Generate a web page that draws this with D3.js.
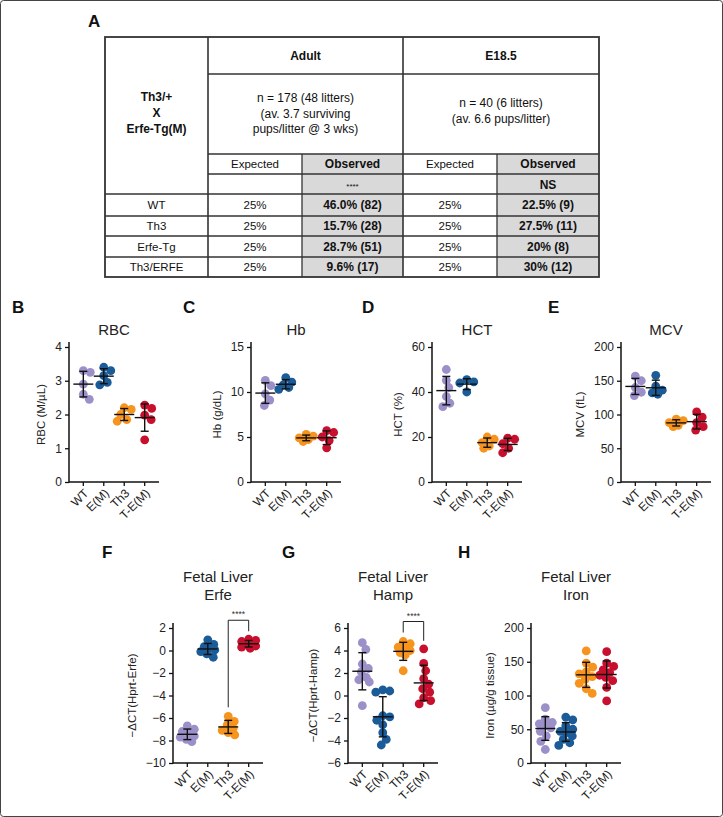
<!DOCTYPE html>
<html><head><meta charset="utf-8">
<script src="https://cdn.jsdelivr.net/npm/d3@7"></script>
<style>
body{margin:0;background:#fff;}
svg{display:block;font-family:"Liberation Sans",Arial,Helvetica,sans-serif;}
</style>
</head><body>
<svg id="c" width="723" height="817"></svg>
<script>
// ---------------- DATA ----------------
const tableRows = ['WT', 'Th3', 'Erfe-Tg', 'Th3/ERFE'];
const adultExpected = ['25%', '25%', '25%', '25%'];
const adultObserved = ['46.0% (82)', '15.7% (28)', '28.7% (51)', '9.6% (17)'];
const e185Expected = ['25%', '25%', '25%', '25%'];
const e185Observed = ['22.5% (9)', '27.5% (11)', '20% (8)', '30% (12)'];
const crossLines = ['Th3/+', 'X', 'Erfe-Tg(M)'];
const adultInfo = ['n = 178 (48 litters)', '(av. 3.7 surviving', 'pups/litter @ 3 wks)'];
const e185Info = ['n = 40 (6 litters)', '(av. 6.6 pups/litter)'];
const adultSig = '****';
const e185Sig = 'NS';

const groups = ['WT', 'E(M)', 'Th3', 'T-E(M)'];
const groupColors = ['#9c90c8', '#1a5b98', '#f7941d', '#c8102e'];

const rbc = [[3.3, 3.25, 2.9, 2.6, 2.45], [3.4, 3.3, 3.15, 2.95, 2.88], [2.2, 2.15, 2.0, 1.85, 1.8], [2.28, 2.18, 1.98, 1.85, 1.25]];
const hb = [[11.3, 10.7, 9.8, 9.1, 8.5], [11.6, 11.1, 10.8, 10.5, 10.3], [5.3, 5.1, 4.9, 4.7, 4.5], [5.7, 5.5, 5.0, 4.6, 3.8]];
const hct = [[50, 45.2, 42, 38, 35, 33.5], [45.5, 44.5, 44, 40], [20, 19, 17.5, 16, 15], [19.5, 19, 17, 15, 13]];
const mcv = [[157, 150, 140, 133, 128], [158, 142, 136, 132, 130], [93, 91, 88, 84, 82], [104, 96, 88, 82, 77]];
const erfe = [[-6.7, -7.0, -7.2, -7.4, -7.6, -7.7, -7.9, -8.1], [0.95, 0.55, 0.35, 0.2, 0.05, -0.1, -0.3, -0.6], [-5.85, -6.3, -6.6, -6.9, -7.1, -7.3, -7.5], [1.0, 0.9, 0.8, 0.65, 0.55, 0.4, 0.3, 0.2]];
const hamp = [[4.7, 4.1, 2.8, 2.4, 2.1, 1.6, 1.4, 1.2, -0.9], [0.5, 0.4, 0.3, -1.8, -1.9, -2.2, -2.6, -3.3, -3.9, -4.4], [4.8, 4.6, 4.3, 4.1, 4.0, 3.8, 3.6, 2.2], [4.15, 2.85, 2.2, 1.5, 1.0, 0.6, 0.3, -0.2, -0.45, -0.75]];
const iron = [[82, 65, 60, 58, 55, 52, 47, 40, 32, 20], [68, 64, 55, 50, 47, 45, 40, 35, 30, 26], [166, 148, 142, 135, 132, 128, 124, 118, 110, 103], [165, 148, 143, 138, 134, 130, 127, 122, 112, 92]];

const rbcTicks = [0, 1, 2, 3, 4];
const hbTicks = [0, 5, 10, 15];
const hctTicks = [0, 20, 40, 60];
const mcvTicks = [0, 50, 100, 150, 200];
const erfeTicks = [-10, -8, -6, -4, -2, 0, 2];
const hampTicks = [-6, -4, -2, 0, 2, 4, 6];
const ironTicks = [0, 50, 100, 150, 200];

const erfeSig = {a: 'Th3', b: 'T-E(M)', label: '****'};
const hampSig = {a: 'Th3', b: 'T-E(M)', label: '****'};

// ---------------- DRAW ----------------
const svg = d3.select('#c');
svg.append('rect').attr('x', 0.5).attr('y', 0.5).attr('width', 722).attr('height', 816)
  .attr('rx', 3).attr('fill', 'none').attr('stroke', '#444').attr('stroke-width', 1);

function letter(t, x, y) {
  svg.append('text').attr('x', x).attr('y', y).attr('font-size', 17).attr('font-weight', 'bold')
    .attr('fill', '#111').text(t);
}

// ---- Table A ----
letter('A', 88, 27);
const cx = [105, 208, 302, 403, 497, 599];
const ry = [37, 74, 154, 174, 194, 216, 236, 257, 277];
const tg = svg.append('g');
[[cx[2], cx[3]], [cx[4], cx[5]]].forEach(([a, b]) => {
  tg.append('rect').attr('x', a).attr('y', ry[2]).attr('width', b - a).attr('height', ry[8] - ry[2]).attr('fill', '#d9d9d9');
});
function ln(x1, y1, x2, y2, w) {
  tg.append('line').attr('x1', x1).attr('y1', y1).attr('x2', x2).attr('y2', y2)
    .attr('stroke', '#333').attr('stroke-width', w || 1.3);
}
ln(cx[1], ry[0], cx[1], ry[8], 1.6);
ln(cx[3], ry[0], cx[3], ry[8], 1.6);
ln(cx[2], ry[2], cx[2], ry[8]);
ln(cx[4], ry[2], cx[4], ry[8]);
[ry[1], ry[2], ry[3]].forEach(y => ln(cx[1], y, cx[5], y));
[ry[4], ry[5], ry[6], ry[7]].forEach(y => ln(cx[0], y, cx[5], y));
tg.append('rect').attr('x', cx[0]).attr('y', ry[0]).attr('width', cx[5] - cx[0]).attr('height', ry[8] - ry[0])
  .attr('fill', 'none').attr('stroke', '#333').attr('stroke-width', 1.8);

function ttext(t, x, y, opts) {
  opts = opts || {};
  tg.append('text').attr('x', x).attr('y', y).attr('text-anchor', 'middle')
    .attr('font-size', opts.size || 11.5).attr('font-weight', opts.bold ? 'bold' : 'normal')
    .attr('fill', '#111').text(t);
}
const mid = (a, b) => (a + b) / 2;
crossLines.forEach((t, i) => ttext(t, mid(cx[0], cx[1]), 101 + i * 16, {bold: true, size: 12}));
ttext('Adult', mid(cx[1], cx[3]), 60, {bold: true, size: 12});
ttext('E18.5', mid(cx[3], cx[5]), 60, {bold: true, size: 12});
adultInfo.forEach((t, i) => ttext(t, mid(cx[1], cx[3]), 102 + i * 15.5, {size: 12}));
e185Info.forEach((t, i) => ttext(t, mid(cx[3], cx[5]), 107 + i * 15.5, {size: 12}));
ttext('Expected', mid(cx[1], cx[2]), 168);
ttext('Observed', mid(cx[2], cx[3]), 168, {bold: true, size: 12});
ttext('Expected', mid(cx[3], cx[4]), 168);
ttext('Observed', mid(cx[4], cx[5]), 168, {bold: true, size: 12});
ttext(adultSig, mid(cx[2], cx[3]), 189, {size: 8});
ttext(e185Sig, mid(cx[4], cx[5]), 189, {bold: true, size: 12});
tableRows.forEach((r, i) => {
  const y = mid(ry[4 + i], ry[5 + i]) + 4;
  ttext(r, mid(cx[0], cx[1]), y);
  ttext(adultExpected[i], mid(cx[1], cx[2]), y);
  ttext(adultObserved[i], mid(cx[2], cx[3]), y, {bold: true, size: 12});
  ttext(e185Expected[i], mid(cx[3], cx[4]), y);
  ttext(e185Observed[i], mid(cx[4], cx[5]), y, {bold: true, size: 12});
});

// ---- Scatter panels ----
const panels = [
  {L: 'B', lx: 12, title: ['RBC'], label: 'RBC (M/\u00b5L)', data: rbc, ticks: rbcTicks, ax: 69, top: 347, bottom: 482},
  {L: 'C', lx: 183, title: ['Hb'], label: 'Hb (g/dL)', data: hb, ticks: hbTicks, ax: 251, top: 347, bottom: 482},
  {L: 'D', lx: 362, title: ['HCT'], label: 'HCT (%)', data: hct, ticks: hctTicks, ax: 432, top: 347, bottom: 482},
  {L: 'E', lx: 548, title: ['MCV'], label: 'MCV (fL)', data: mcv, ticks: mcvTicks, ax: 621, top: 347, bottom: 482},
  {L: 'F', lx: 102, title: ['Fetal Liver', 'Erfe'], label: '\u2212\u0394CT(Hprt-Erfe)', data: erfe, ticks: erfeTicks, ax: 173, top: 628, bottom: 763, sig: erfeSig},
  {L: 'G', lx: 282, title: ['Fetal Liver', 'Hamp'], label: '\u2212\u0394CT(Hprt-Hamp)', data: hamp, ticks: hampTicks, ax: 348, top: 628, bottom: 763, sig: hampSig},
  {L: 'H', lx: 458, title: ['Fetal Liver', 'Iron'], label: 'Iron (\u00b5g/g tissue)', data: iron, ticks: ironTicks, ax: 531, top: 628, bottom: 763}
];
const W = 90, R = 4.4, MAXOFF = 7;

function swarm(vals, cxp, y) {
  const pts = vals.map(v => ({v: v, y: y(v)})).sort((a, b) => a.y - b.y);
  const placed = [];
  const minD = R * 1.7;
  pts.forEach(p => {
    let best = 0, bestD = -1;
    for (let k = 0; k <= MAXOFF * 4; k++) {
      const off = (k % 2 ? 1 : -1) * Math.ceil(k / 2) * 0.5;
      const d = placed.length ? Math.min(...placed.map(q => Math.hypot(q.dx - off, q.y - p.y))) : Infinity;
      if (d >= minD) { best = off; bestD = d; break; }
      if (d > bestD + 0.3) { bestD = d; best = off; }
    }
    p.dx = best;
    placed.push(p);
  });
  return placed.map(p => ({v: p.v, y: p.y, x: cxp + p.dx}));
}

panels.forEach(p => {
  const g = svg.append('g');
  const y = d3.scaleLinear().domain([p.ticks[0], p.ticks[p.ticks.length - 1]]).range([p.bottom, p.top]);
  const x = d3.scalePoint().domain(groups).range([p.ax, p.ax + W]).padding(0.7);
  const isTwo = p.title.length > 1;
  letter(p.L, p.lx, isTwo ? 558 : 313);
  p.title.forEach((t, i) => {
    g.append('text').attr('x', p.ax + W / 2).attr('y', (isTwo ? 582 : 335) + i * 18)
      .attr('text-anchor', 'middle').attr('font-size', 15).attr('fill', '#222').text(t);
  });
  // y axis
  const ya = g.append('g').attr('transform', `translate(${p.ax},0)`)
    .call(d3.axisLeft(y).tickValues(p.ticks).tickFormat(d3.format('d')).tickSize(4).tickSizeOuter(0).tickPadding(3));
  ya.select('.domain').remove();
  ya.attr('font-family', null).attr('font-size', null);
  ya.selectAll('line').attr('stroke', '#111').attr('stroke-width', 1.3);
  ya.selectAll('text').attr('font-size', 12).attr('fill', '#222');
  g.append('line').attr('x1', p.ax).attr('x2', p.ax).attr('y1', p.top - 5).attr('y2', p.bottom + 0.6)
    .attr('stroke', '#111').attr('stroke-width', 1.5);
  g.append('line').attr('x1', p.ax).attr('x2', p.ax + W).attr('y1', p.bottom).attr('y2', p.bottom)
    .attr('stroke', '#111').attr('stroke-width', 1.5);
  const bb = ya.node().getBBox();
  const lcx = p.ax + bb.x - 14, lcy = (p.top + p.bottom) / 2;
  g.append('text').attr('transform', `translate(${lcx},${lcy}) rotate(-90)`).attr('dy', '0.35em')
    .attr('text-anchor', 'middle').attr('font-size', 11.5).attr('fill', '#222').text(p.label);
  // x ticks and labels
  groups.forEach(gr => {
    const xx = x(gr);
    g.append('line').attr('x1', xx).attr('x2', xx).attr('y1', p.bottom).attr('y2', p.bottom + 4)
      .attr('stroke', '#111').attr('stroke-width', 1.3);
    g.append('text').attr('transform', `translate(${xx + 3},${p.bottom + 9}) rotate(-45)`)
      .attr('dy', '0.35em').attr('text-anchor', 'end').attr('font-size', 12).attr('fill', '#222').text(gr);
  });
  // points
  p.data.forEach((vals, gi) => {
    const xc = x(groups[gi]);
    swarm(vals, xc, y).forEach(pt => {
      g.append('circle').attr('cx', pt.x).attr('cy', pt.y).attr('r', R).attr('fill', groupColors[gi]);
    });
  });
  // mean +/- SD
  p.data.forEach((vals, gi) => {
    const xc = x(groups[gi]);
    const m = d3.mean(vals), s = d3.deviation(vals);
    const st = (x1, y1, x2, y2) => g.append('line').attr('x1', x1).attr('y1', y1).attr('x2', x2).attr('y2', y2)
      .attr('stroke', '#111').attr('stroke-width', 1.4);
    st(xc - 10, y(m), xc + 10, y(m));
    st(xc, y(m - s), xc, y(m + s));
    st(xc - 4, y(m - s), xc + 4, y(m - s));
    st(xc - 4, y(m + s), xc + 4, y(m + s));
  });
  // significance bracket
  if (p.sig) {
    const ia = groups.indexOf(p.sig.a), ib = groups.indexOf(p.sig.b);
    const ya1 = y(d3.max(p.data[ia])) - 9, yb1 = y(d3.max(p.data[ib])) - 8;
    const topY = Math.min(ya1, yb1) - 11;
    const xa = x(p.sig.a), xb = x(p.sig.b);
    g.append('path').attr('d', `M${xa},${ya1}V${topY}H${xb}V${yb1}`).attr('fill', 'none')
      .attr('stroke', '#222').attr('stroke-width', 1);
    g.append('text').attr('x', (xa + xb) / 2).attr('y', topY - 3).attr('text-anchor', 'middle')
      .attr('font-size', 8.5).attr('fill', '#333').text(p.sig.label);
  }
});
</script>
</body></html>
